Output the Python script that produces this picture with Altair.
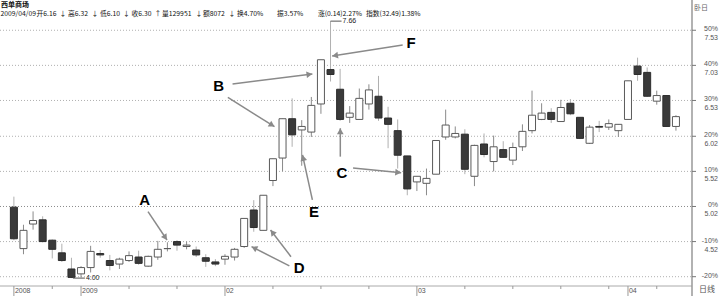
import math
import altair as alt
import pandas as pd

# ---------------- data ----------------
opens = [5.01, 4.42, 4.77, 4.83, 4.54, 4.36, 4.13, 4.06, 4.15, 4.35,
         4.25, 4.20, 4.25, 4.30, 4.17, 4.30, 4.42, 4.52, 4.45, 4.40,
         4.29, 4.23, 4.27, 4.30, 4.45, 4.97, 4.68, 5.39, 5.71, 6.27,
         6.11, 6.08, 6.48, 6.97, 6.69, 6.29, 6.26, 6.48, 6.59, 6.28,
         6.10, 5.74, 5.37, 5.35, 5.48, 6.01, 6.01, 6.05, 5.45, 5.91,
         5.66, 5.83, 5.68, 5.87, 6.10, 6.26, 6.36, 6.23, 6.49, 6.29,
         5.92, 6.16, 6.15, 6.10, 6.26, 7.02, 6.93, 6.52, 6.60, 6.16]
highs = [5.16, 4.76, 4.95, 4.88, 4.55, 4.49, 4.29, 4.17, 4.46, 4.40,
         4.33, 4.29, 4.38, 4.39, 4.32, 4.53, 4.51, 4.54, 4.52, 4.45,
         4.34, 4.27, 4.34, 4.43, 4.85, 5.11, 5.18, 5.70, 6.27, 6.56,
         6.25, 6.58, 7.11, 7.66, 6.98, 6.45, 6.70, 6.76, 6.88, 6.44,
         6.26, 5.74, 5.45, 5.56, 5.96, 6.40, 6.16, 6.12, 5.90, 6.06,
         6.03, 5.95, 5.93, 6.19, 6.67, 6.49, 6.42, 6.54, 6.55, 6.29,
         6.18, 6.24, 6.26, 6.19, 6.81, 7.14, 7.00, 6.67, 6.60, 6.32]
lows = [4.54, 4.34, 4.69, 4.51, 4.28, 4.23, 4.00, 4.01, 4.08, 4.29,
        4.11, 4.13, 4.23, 4.19, 4.16, 4.26, 4.38, 4.39, 4.41, 4.30,
        4.16, 4.17, 4.19, 4.25, 4.43, 4.66, 4.68, 5.31, 5.52, 5.87,
        5.60, 6.01, 6.34, 6.80, 6.24, 6.21, 6.26, 6.40, 6.24, 5.85,
        5.56, 5.18, 5.24, 5.18, 5.48, 5.97, 5.99, 5.48, 5.31, 5.72,
        5.52, 5.71, 5.61, 5.81, 6.06, 6.25, 6.21, 6.23, 6.32, 5.98,
        5.91, 6.08, 6.11, 6.01, 6.26, 6.81, 6.58, 6.47, 6.16, 6.10]
closes = [4.56, 4.68, 4.82, 4.52, 4.41, 4.25, 4.01, 4.15, 4.38, 4.33,
          4.18, 4.27, 4.32, 4.21, 4.31, 4.41, 4.42, 4.47, 4.47, 4.33,
          4.24, 4.20, 4.31, 4.41, 4.85, 4.72, 5.18, 5.70, 6.27, 6.04,
          6.16, 6.46, 7.11, 6.90, 6.26, 6.35, 6.56, 6.68, 6.28, 6.19,
          5.75, 5.27, 5.45, 5.42, 5.96, 6.18, 6.06, 5.55, 5.89, 5.76,
          5.87, 5.72, 5.86, 6.09, 6.32, 6.35, 6.26, 6.43, 6.34, 5.99,
          6.15, 6.15, 6.20, 6.19, 6.81, 6.90, 6.59, 6.60, 6.16, 6.30]

base_price = 5.02
pct_levels = [50, 40, 30, 20, 10, 0, -10, -20]

date_label_idx = [0, 7, 22, 42, 64]
date_labels = ["2008", "2009", "02", "03", "04"]
minor_tick_idx = [4, 12, 17, 27, 32, 37, 47, 52, 57, 62, 67]

header_title = "西单商场"
header_parts = ["2009/04/09", "开6.16", "↓", "高6.32", "↓", "低6.10", "↓", "收6.30", "↑",
                "量129951", "↓", "额8072", "↓", "换4.70%", "振3.57%", "涨(0.14)2.27%",
                "指数(32.49)1.38%"]
header_part_x = [0.5, 36.5, 59.5, 68, 91.5, 100, 123, 131.5, 154.5,
                 162, 195.5, 203, 228.5, 237, 277, 318, 366]

low_mark = {"idx": 6, "price": 4.00, "text": "4.00"}
high_mark = {"idx": 33, "price": 7.66, "text": "7.66"}

# annotation letters (candle index, price)
letters = ["A", "B", "C", "D", "E", "F"]
letter_idx = [13.64, 21.35, 34.19, 29.73, 31.27, 41.39]
letter_price = [5.113, 6.741, 5.493, 4.140, 4.946, 7.353]
# arrows: start idx, start price, end idx, end price
arrow_x1 = [13.98, 22.79, 22.30, 34.02, 35.35, 28.71, 28.88, 31.11, 40.52]
arrow_p1 = [4.946, 6.765, 6.575, 5.730, 5.569, 4.173, 4.305, 5.113, 7.320]
arrow_x2 = [15.96, 31.11, 27.16, 34.02, 40.36, 24.77, 26.75, 30.08, 33.17]
arrow_p2 = [4.543, 6.907, 6.157, 6.134, 5.502, 4.448, 4.686, 5.754, 7.164]

# ---------------- layout ----------------
W, H = 720, 296
AXIS_X = 692
AXIS_Y = 286
X_MIN, X_MAX = -0.925, 73.07
Y_MIN, Y_MAX = 3.745, 7.961
PX = W / (X_MAX - X_MIN)
PY = H / (Y_MAX - Y_MIN)

xs = alt.Scale(domain=[X_MIN, X_MAX], nice=False, zero=False)
ys = alt.Scale(domain=[Y_MIN, Y_MAX], nice=False, zero=False)

candles = pd.DataFrame({
    "idx": list(range(len(opens))),
    "open": opens, "high": highs, "low": lows, "close": closes,
})
candles["dir"] = ["up" if c >= o else "down" for o, c in zip(opens, closes)]

X = alt.X("idx:Q", scale=xs, axis=None)

wicks = alt.Chart(candles).mark_rule(strokeWidth=1).encode(
    x=X,
    y=alt.Y("low:Q", scale=ys, axis=None),
    y2="high:Q",
    color=alt.Color("dir:N", scale=alt.Scale(domain=["up", "down"], range=["#666666", "#444444"]), legend=None),
)
bodies = alt.Chart(candles).mark_bar(size=7, strokeWidth=1).encode(
    x=X,
    y=alt.Y("open:Q", scale=ys, axis=None),
    y2="close:Q",
    fill=alt.Fill("dir:N", scale=alt.Scale(domain=["up", "down"], range=["#ffffff", "#3a3a3a"]), legend=None),
    stroke=alt.Stroke("dir:N", scale=alt.Scale(domain=["up", "down"], range=["#5a5a5a", "#2c2c2c"]), legend=None),
)

grid_df = pd.DataFrame({
    "price": [round(base_price * (1 + p / 100), 2) for p in pct_levels],
    "pct": [f"{p}%" for p in pct_levels],
    "ptxt": [f"{base_price * (1 + p / 100):.2f}" for p in pct_levels],
    "zero": [p == 0 for p in pct_levels],
})
grid = alt.Chart(grid_df).mark_rule(strokeDash=[1, 2], strokeWidth=1).encode(
    y=alt.Y("price:Q", scale=ys, axis=None),
    x=alt.value(0), x2=alt.value(AXIS_X),
    color=alt.Color("zero:N", scale=alt.Scale(domain=[True, False], range=["#8a8a8a", "#b0b0b0"]), legend=None),
)
rticks = alt.Chart(grid_df).mark_rule(color="#777", strokeWidth=1).encode(
    y=alt.Y("price:Q", scale=ys, axis=None),
    x=alt.value(AXIS_X), x2=alt.value(AXIS_X + 4),
)
pct_text = alt.Chart(grid_df).mark_text(
    align="right", baseline="middle", fontSize=7, font="Liberation Sans", color="#555", dy=-1
).encode(y=alt.Y("price:Q", scale=ys, axis=None), x=alt.value(718), text="pct:N")
price_text = alt.Chart(grid_df[grid_df["pct"] != "-20%"]).mark_text(
    align="right", baseline="middle", fontSize=7, font="Liberation Sans", color="#555", dy=8
).encode(y=alt.Y("price:Q", scale=ys, axis=None), x=alt.value(718), text="ptxt:N")

# frame lines
vline = alt.Chart(pd.DataFrame({"a": [0]})).mark_rule(color="#999", strokeWidth=1.5).encode(
    x=alt.value(AXIS_X), y=alt.value(0), y2=alt.value(H))
hline = alt.Chart(pd.DataFrame({"a": [0]})).mark_rule(color="#aaa", strokeWidth=1).encode(
    x=alt.value(0), x2=alt.value(AXIS_X), y=alt.value(AXIS_Y))

# x axis ticks and labels
dl_df = pd.DataFrame({"idx": date_label_idx, "label": date_labels})
mt_df = pd.DataFrame({"idx": minor_tick_idx})
dticks = alt.Chart(dl_df).mark_rule(color="#999", strokeWidth=1).encode(
    x=X, y=alt.value(AXIS_Y), y2=alt.value(H))
dtext = alt.Chart(dl_df).mark_text(
    align="left", baseline="middle", fontSize=7, font="Liberation Sans", color="#555", dx=1
).encode(x=X, y=alt.value(291), text="label:N")
mticks = alt.Chart(mt_df).mark_rule(color="#999", strokeWidth=1).encode(
    x=X, y=alt.value(AXIS_Y), y2=alt.value(AXIS_Y + 3))
rixian = alt.Chart(pd.DataFrame({"t": ["日线"]})).mark_text(
    align="left", baseline="middle", fontSize=8, font="Noto Sans CJK SC", color="#555"
).encode(x=alt.value(699), y=alt.value(290), text="t:N")

# header
title_t = alt.Chart(pd.DataFrame({"t": [header_title]})).mark_text(
    align="left", baseline="middle", fontSize=7, font="Noto Sans CJK SC", fontWeight="bold", color="#111"
).encode(x=alt.value(1), y=alt.value(5), text="t:N")
hdr_df = pd.DataFrame({"t": header_parts, "x": header_part_x})
line_t = alt.Chart(hdr_df).mark_text(
    align="left", baseline="middle", fontSize=6.8, font="Noto Sans CJK SC", color="#111"
).encode(x=alt.X("x:Q", scale=None), y=alt.value(14), text="t:N")
corner_t = alt.Chart(pd.DataFrame({"t": ["卧日"]})).mark_text(
    align="left", baseline="middle", fontSize=7, font="Noto Sans CJK SC", color="#666"
).encode(x=alt.value(694), y=alt.value(8), text="t:N")

# extreme marks
ext_df = pd.DataFrame({
    "x1": [low_mark["idx"] + 0.15, high_mark["idx"]],
    "x2": [low_mark["idx"] + 1.4, high_mark["idx"] + 1.15],
    "price": [low_mark["price"], high_mark["price"]],
    "text": [low_mark["text"], high_mark["text"]],
})
ext_rule = alt.Chart(ext_df).mark_rule(color="#555", strokeWidth=1).encode(
    x=alt.X("x1:Q", scale=xs, axis=None), x2="x2:Q",
    y=alt.Y("price:Q", scale=ys, axis=None))
ext_text = alt.Chart(ext_df).mark_text(
    align="left", baseline="middle", fontSize=7, font="Liberation Sans", color="#222", dx=1
).encode(x=alt.X("x2:Q", scale=xs, axis=None), y=alt.Y("price:Q", scale=ys, axis=None), text="text:N")

# annotation arrows
heads = []
for x1, p1, x2, p2 in zip(arrow_x1, arrow_p1, arrow_x2, arrow_p2):
    dx = (x2 - x1) * PX
    dy = -(p2 - p1) * PY
    L = math.hypot(dx, dy)
    ux, uy = dx / L, dy / L
    back = 3.0
    heads.append({
        "hx": x2 - back * ux / PX,
        "hp": p2 + back * uy / PY,
        "ang": math.degrees(math.atan2(ux, -uy)) % 360,
    })
arr_df = pd.DataFrame({"x1": arrow_x1, "p1": arrow_p1, "x2": arrow_x2, "p2": arrow_p2})
head_df = pd.DataFrame(heads)
arr_lines = alt.Chart(arr_df).mark_rule(color="#8a8a8a", strokeWidth=1.5).encode(
    x=alt.X("x1:Q", scale=xs, axis=None), x2="x2:Q",
    y=alt.Y("p1:Q", scale=ys, axis=None), y2="p2:Q")
arr_heads = alt.Chart(head_df).mark_point(shape="triangle-up", filled=True, color="#8a8a8a", size=45, opacity=1).encode(
    x=alt.X("hx:Q", scale=xs, axis=None),
    y=alt.Y("hp:Q", scale=ys, axis=None),
    angle=alt.Angle("ang:Q", scale=None))
let_df = pd.DataFrame({"t": letters, "idx": letter_idx, "price": letter_price})
let_text = alt.Chart(let_df).mark_text(
    align="center", baseline="middle", fontSize=15, font="Liberation Sans", fontWeight="bold", color="#000"
).encode(x=alt.X("idx:Q", scale=xs, axis=None), y=alt.Y("price:Q", scale=ys, axis=None), text="t:N")

chart = alt.layer(
    grid, hline, vline, rticks, pct_text, price_text,
    dticks, mticks, dtext, rixian,
    wicks, bodies, ext_rule, ext_text,
    arr_lines, arr_heads, let_text,
    title_t, line_t, corner_t,
).properties(width=W, height=H, padding=0, autosize=alt.AutoSizeParams(type="none"),
             background="white").configure_view(stroke=None)

chart.save("out.html", embed_options={"renderer": "svg", "actions": False})
